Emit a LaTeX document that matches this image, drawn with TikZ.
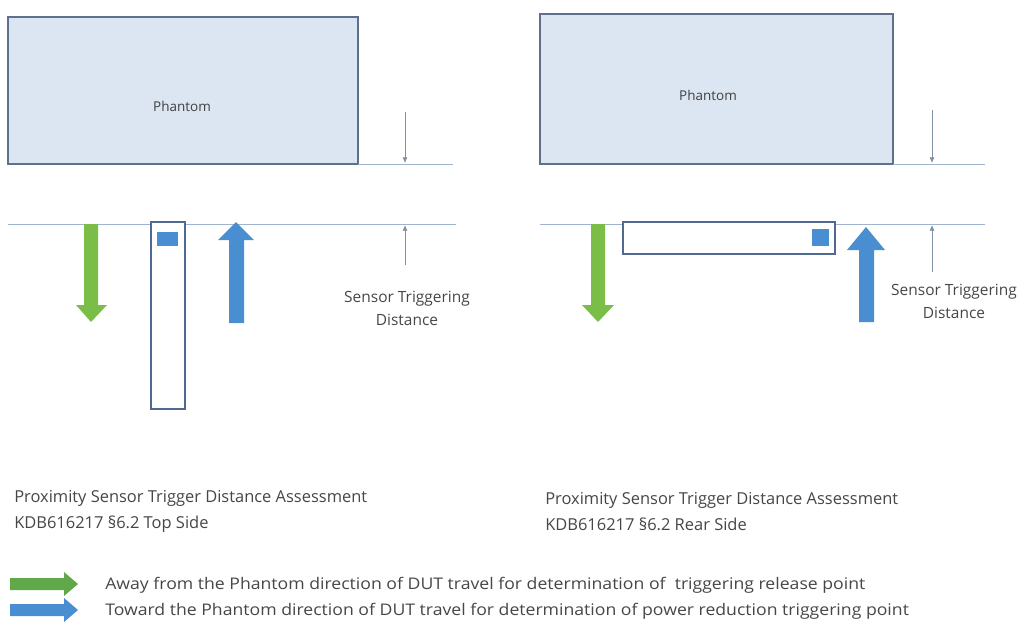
\documentclass[tikz,border=0pt]{standalone}
\usepackage{fontspec}
\setmainfont{Open Sans}
\newfontfamily\legendfont{Open Sans}[FakeStretch=1.1]
\usepackage{xcolor}

\definecolor{phantomfill}{RGB}{220,230,242}
\definecolor{phantomedge}{RGB}{95,112,140}
\definecolor{guide}{RGB}{160,180,208}
\definecolor{dutedge}{RGB}{80,105,145}
\definecolor{awaygreen}{RGB}{122,190,72}
\definecolor{legendgreen}{RGB}{96,168,74}
\definecolor{towardblue}{RGB}{74,142,210}
\definecolor{labelgray}{RGB}{70,70,70}

\tikzset{
  phantom/.style={draw=phantomedge, fill=phantomfill, line width=0.9pt},
  dut/.style={draw=dutedge, fill=white, line width=0.8pt},
  guideline/.style={draw=guide, line width=0.6pt},
  gap/.style={draw=guide!80!black, line width=0.5pt, -{Latex[length=4pt,width=3.5pt]}},
  txt/.style={text=labelgray, inner sep=0pt},
  captxt/.style={txt, font=\fontsize{11.7pt}{18.5pt}\selectfont, anchor=west, align=left},
  disttxt/.style={txt, font=\fontsize{11pt}{16.5pt}\selectfont, align=center},
  legtxt/.style={txt, font=\legendfont\fontsize{11.4pt}{13pt}\selectfont, anchor=west},
  phtxt/.style={txt, text=black!75, font=\fontsize{9.6pt}{11pt}\selectfont},
}
\usetikzlibrary{arrows.meta}

\begin{document}
\begin{tikzpicture}[x=0.025cm, y=-0.025cm]
  \useasboundingbox (0,0) rectangle (1021,626);

  % ---- Top side ----
  \draw[phantom] (8,17) rectangle (358,164);
  \node[phtxt] (phL) at (182,106) {Phantom};
  \draw[guideline] (358,164) -- (453,164);
  \draw[guideline] (8,224) -- (456,224);
  \coordinate (gLa) at (405,112);
  \coordinate (gLb) at (405,163);
  \coordinate (gLc) at (405,265);
  \coordinate (gLd) at (405,225);
  \draw[gap] (gLa) -- (gLb);
  \draw[gap] (gLc) -- (gLd);
  \node[disttxt] (distL) at (407,308) {Sensor Triggering\\Distance};

  % away arrow (green, down)
  \fill[awaygreen] (84,224) -- (98,224) -- (98,305) -- (107,305) -- (91,322)
    -- (76,305) -- (84,305) -- cycle;
  % device on edge
  \draw[dut] (151,222) rectangle (185,409);
  \fill[towardblue] (157,232) rectangle (178,246);
  % toward arrow (blue, up)
  \fill[towardblue] (229,323) -- (244,323) -- (244,240) -- (254,240) -- (236,222)
    -- (218,240) -- (229,240) -- cycle;

  \node[captxt] (capL) at (14,511.5)
    {Proximity Sensor Trigger Distance Assessment\\KDB616217 §6.2 Top Side};

  % ---- Rear side ----
  \draw[phantom] (540,14) rectangle (893,164);
  \node[phtxt] (phR) at (708,95) {Phantom};
  \draw[guideline] (893,164) -- (985,164);
  \draw[guideline] (540,224) -- (985,224);
  \coordinate (gRa) at (932,110);
  \coordinate (gRb) at (932,163);
  \coordinate (gRc) at (932,272);
  \coordinate (gRd) at (932,225);
  \draw[gap] (gRa) -- (gRb);
  \draw[gap] (gRc) -- (gRd);
  \node[disttxt] (distR) at (954,301) {Sensor Triggering\\Distance};

  \fill[awaygreen] (591,224) -- (605,224) -- (605,305) -- (614,305) -- (598,322)
    -- (582,305) -- (591,305) -- cycle;
  \draw[dut] (623,222) rectangle (835,254);
  \fill[towardblue] (812,229) rectangle (829,246);
  \fill[towardblue] (859,322) -- (874,322) -- (874,250) -- (885,250) -- (866,227)
    -- (847,250) -- (859,250) -- cycle;

  \node[captxt] (capR) at (545,511.5)
    {Proximity Sensor Trigger Distance Assessment\\KDB616217 §6.2 Rear Side};

  % ---- legend ----
  \fill[legendgreen] (10,578) -- (64,578) -- (64,572) -- (78,584) -- (64,596)
    -- (64,590) -- (10,590) -- cycle;
  \fill[towardblue] (10,604) -- (64,604) -- (64,598) -- (78,610) -- (64,622)
    -- (64,616) -- (10,616) -- cycle;
  \node[legtxt] (legA) at (105,585.5)
    {Away from the Phantom direction of DUT travel for determination of \ triggering release point};
  \node[legtxt] (legT) at (105,611.5)
    {Toward the Phantom direction of DUT travel for determination of power reduction triggering point};
\end{tikzpicture}
\end{document}
